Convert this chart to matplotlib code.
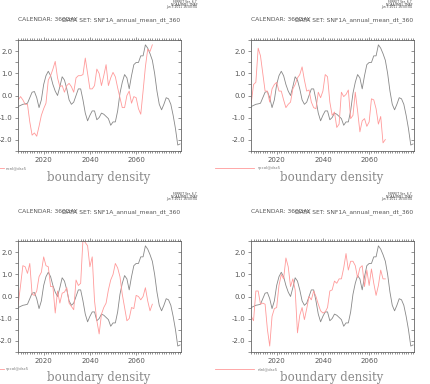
import numpy as np
import matplotlib
matplotlib.use("Agg")
import matplotlib.pyplot as plt
from matplotlib.ticker import MultipleLocator, FixedLocator

# reference series (same in every panel), yearly 2009..2079
ref_years = list(range(2009, 2080))
ref_vals = [-0.5, -0.45, -0.4, -0.38, -0.35, -0.1, 0.15, 0.18, -0.1, -0.55,
            -0.2, 0.5, 0.9, 1.1, 0.9, 0.5, 0.2, 0.0, 0.4, 0.85,
            0.7, 0.3, -0.2, -0.4, -0.3, 0.0, 0.3, 0.3, -0.2, -0.8,
            -1.15, -0.9, -0.7, -0.7, -1.1, -1.0, -0.8, -0.85, -0.95, -1.05,
            -1.35, -1.2, -1.2, -0.7, 0.1, 0.6, 0.95, 0.8, 0.3, 0.9,
            1.4, 1.5, 1.5, 1.8, 1.8, 2.3, 2.15, 1.9, 1.6, 1.0,
            0.2, -0.4, -0.65, -0.4, -0.1, -0.15, -0.4, -0.9, -1.5, -2.25,
            -2.2]

# panel series, yearly 2009..2067
exp_years = list(range(2009, 2068))
exp_a = [-0.2, -0.05, -0.2, -0.4, -0.4, -1.2, -1.8, -1.7, -1.85, -1.4,
         -0.9, -0.6, -0.35, 0.7, 0.9, 1.2, 1.55, 0.8, 0.4, 0.45,
         0.15, 0.45, 0.55, 0.4, 0.15, 0.8, 0.9, 0.9, 0.95, 1.7,
         1.0, 0.3, 0.3, 0.45, 1.2, 1.0, 0.45, 0.9, 1.4, 0.45,
         0.8, 1.05, 0.85, 0.35, -0.1, -0.55, -0.55, 0.0, 0.2, -0.35,
         -0.05, -0.1, -0.6, -0.85, 0.2, 1.3, 2.1, 2.0, 2.3]
exp_b = [-0.35, 0.5, 0.6, 2.15, 1.8, 1.0, 0.2, 0.2, -0.3, 0.3,
         0.5, 0.6, 0.2, 0.2, -0.2, -0.55, -0.4, -0.3, 0.3, 0.5,
         0.8, 0.95, 1.3, 0.7, 0.2, 0.25, -0.3, -0.55, -0.6, 0.15,
         -0.1, 0.2, 0.95, 0.85, -0.3, -0.9, -0.75, -1.45, -1.3, 0.15,
         -0.05, 0.05, 0.25, -1.05, -0.9, 0.15, -0.7, -1.65, -1.15, -1.05,
         -1.4, -1.2, -0.15, -0.2, -0.6, -1.3, -0.95, -2.15, -2.0]
exp_c = [-0.35, 0.5, 1.4, 1.35, 1.05, 1.5, 0.1, 0.05, 0.25, 0.9,
         1.1, 1.8, 1.4, 1.35, 0.45, 0.45, -0.75, 0.25, -0.3, 0.15,
         0.2, 0.4, -0.3, -0.45, -0.6, 0.75, 0.5, 0.6, 2.6, 2.45,
         2.3, 1.35, 1.8, -0.2, -1.1, -1.7, -0.8, -0.5, -0.3, 0.3,
         0.75, 1.0, 1.5, 1.3, 0.9, 0.1, -0.5, -1.1, -1.0, -0.5,
         -0.55, 0.05, 0.0, -0.15, 0.0, 0.4, -0.2, -0.65, -0.35]
exp_d = [-0.9, -1.1, 0.25, 0.25, -0.35, -0.3, -0.35, -1.5, -2.25, -0.9,
         -0.55, -0.5, 0.5, 1.0, 0.8, 1.75, 1.35, 0.45, 0.8, 0.3,
         -1.65, -0.85, -0.5, -1.05, -0.55, 0.0, -0.15, 0.25, 0.0, -0.35,
         -0.65, -0.75, -0.7, -0.5, 0.25, 0.3, 0.7, 0.6, 0.8, 0.8,
         1.3, 1.95, 1.2, 1.6, 1.6, 1.4, 0.85, 1.3, 1.4, 0.45,
         1.2, 0.5, 1.25, 0.6, 0.05, 0.5, 1.2, 0.8, 0.8]

panel_series = [exp_a, exp_b, exp_c, exp_d]
panel_labels = ["ncnl@dsc5", "spcol@dsc5", "spcol@dsc5", "nlnl@dsc5"]
title_text = "CALENDAR: 360DAY"
dset_text = "DATA SET: SNF1A_annual_mean_dt_360"
stamp_lines = ["FERRET Ver. 6.7", "NOAA/PMEL TMAP", "Jun 3 2011 16:00:04"]
xlabel_text = "boundary density"

W, H = 430, 384
GRAY = "#888888"
RED = "#ff9a9a"
TXT = "#555555"

fig = plt.figure(figsize=(W / 100, H / 100), dpi=100)
fig.patch.set_facecolor("white")


def px(x, y):
    return x / W, 1 - y / H


# axes box (left, top, right, bottom) in pixels, plus text anchors
layouts = [
    dict(box=(18, 40, 181, 151), cell_x=0, cell_y=0, leg_line=(-30, 4), leg_txt=6, lab_x=99),
    dict(box=(251, 40, 414, 151), cell_x=215, cell_y=0, leg_line=(215, 254), leg_txt=258, lab_x=332),
    dict(box=(18, 241, 181, 352), cell_x=0, cell_y=192, leg_line=(-30, 4), leg_txt=6, lab_x=99),
    dict(box=(251, 241, 414, 352), cell_x=215, cell_y=192, leg_line=(215, 254), leg_txt=258, lab_x=332),
]

for lay, vals, lab in zip(layouts, panel_series, panel_labels):
    l, t, r, b = lay["box"]
    ax = fig.add_axes([l / W, 1 - b / H, (r - l) / W, (b - t) / H])
    ax.plot(ref_years, ref_vals, color=GRAY, lw=0.6)
    ax.plot(exp_years, vals, color=RED, lw=0.6)
    ax.set_xlim(2008.9, 2079.4)
    ax.set_ylim(-2.52, 2.52)

    for s in ax.spines.values():
        s.set_color("#666666")
        s.set_linewidth(0.6)

    ax.xaxis.set_major_locator(FixedLocator([2020, 2040, 2060]))
    ax.xaxis.set_minor_locator(MultipleLocator(1))
    ax.yaxis.set_minor_locator(MultipleLocator(0.5))
    ax.set_yticks([-2, -1, 0, 1, 2])
    ax.set_yticklabels(["-2.0", "-1.0", "0.0", "1.0", "2.0"])
    ax.tick_params(axis="both", which="both", colors="#666666", width=0.5,
                   labelsize=5, labelcolor=TXT, pad=1.5)
    ax.tick_params(axis="x", which="major", direction="out", length=2.5,
                   top=True, bottom=True)
    ax.tick_params(axis="x", which="minor", direction="out", length=1.3,
                   top=True, bottom=True)
    ax.tick_params(axis="y", which="both", direction="out", length=2.5,
                   left=True, right=False)
    ax2 = ax.secondary_yaxis("right")
    ax2.set_yticks(np.arange(-2.5, 2.6, 0.5))
    ax2.tick_params(direction="in", length=2.5, width=0.5, colors="#666666",
                    labelright=False)
    ax2.spines["right"].set_visible(False)

    cx, cy = lay["cell_x"], lay["cell_y"]
    # Ferret draws the calendar and data set labels on top of each other
    tx, ty = px(l, cy + 21)
    fig.text(tx, ty, title_text, fontsize=4.3, color=TXT, va="baseline")
    tx2, _ = px(l + 44, 0)
    fig.text(tx2, ty, dset_text, fontsize=4.3, color=TXT, va="baseline")

    for i, line in enumerate(stamp_lines):
        sx, sy = px(cx + 197, cy + 2 + i * 2.7)
        fig.text(sx, sy, line, fontsize=2.2, color="#444444", ha="right", va="center")

    x0, x1 = lay["leg_line"]
    ly = cy + 168 + (9 if cy else 0)
    fig.add_artist(plt.Line2D([x0 / W, x1 / W], [1 - ly / H] * 2,
                              color=RED, lw=0.6, transform=fig.transFigure))
    lx, lyy = px(lay["leg_txt"], ly)
    fig.text(lx, lyy, lab, fontsize=2.8, color="#777777", va="center")

    bx, by = px(lay["lab_x"], cy + 177 + (9 if cy else 0))
    fig.text(bx, by, xlabel_text, fontsize=8.5, family="DejaVu Serif",
             color="#8a8a8a", ha="center", va="center")

fig.savefig("out.png", dpi=100, facecolor="white")
